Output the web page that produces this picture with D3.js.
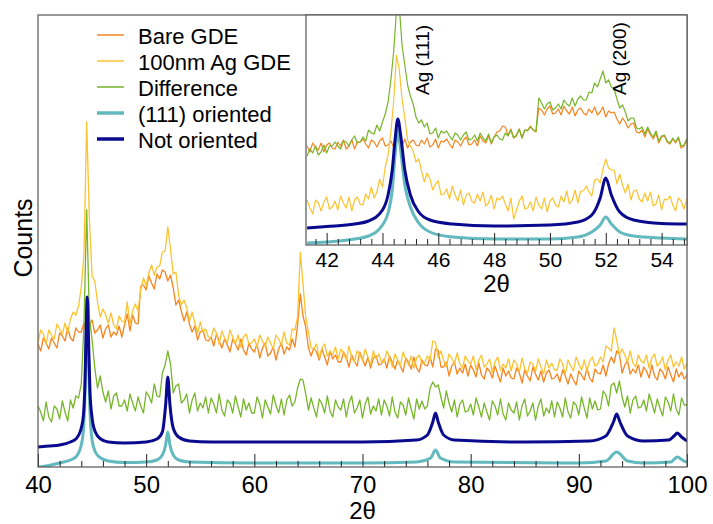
<!DOCTYPE html>
<html>
<head>
<meta charset="utf-8">
<script src="https://cdn.jsdelivr.net/npm/d3@7"></script>
<style>
  html, body { margin: 0; padding: 0; background: #fff; }
  svg { display: block; font-family: 'Liberation Sans', Arial, sans-serif; }
</style>
</head>
<body>
<svg id="chart" width="713" height="524"></svg>
<script>
// main panel, 2theta = 40 .. 100 every 0.25 deg (arbitrary counts, already offset)
const bareGDE = [
  123, 116, 129, 124, 118, 129, 124, 119, 134, 131, 126, 139, 129, 126, 139, 135,
  135, 144, 133, 142, 147, 134, 137, 142, 129, 138, 142, 130, 135, 132, 141, 130,
  142, 153, 136, 152, 144, 143, 181, 182, 177, 191, 184, 178, 193, 188, 197, 195,
  186, 192, 179, 162, 167, 156, 146, 155, 143, 135, 141, 127, 135, 137, 127, 126,
  130, 121, 133, 126, 119, 128, 122, 115, 128, 123, 117, 128, 117, 112, 124, 118,
  115, 123, 109, 119, 124, 111, 114, 120, 107, 118, 124, 113, 120, 117, 128, 120,
  142, 173, 151, 140, 119, 111, 119, 115, 107, 118, 110, 102, 116, 108, 112, 105,
  105, 115, 110, 100, 112, 106, 101, 115, 108, 101, 110, 99, 109, 111, 102, 103,
  108, 99, 111, 105, 98, 107, 101, 95, 109, 105, 98, 110, 99, 95, 107, 102,
  101, 110, 100, 118, 117, 100, 100, 105, 91, 101, 105, 93, 99, 94, 103, 91,
  102, 97, 90, 104, 92, 88, 99, 96, 89, 101, 93, 85, 99, 91, 96, 89,
  88, 99, 94, 84, 97, 91, 86, 100, 93, 87, 96, 85, 94, 97, 88, 89,
  93, 85, 97, 91, 83, 93, 87, 82, 96, 92, 87, 99, 89, 85, 98, 94,
  93, 102, 91, 103, 110, 104, 116, 113, 94, 102, 106, 93, 98, 94, 102, 90,
  100, 96, 89, 102, 91, 87, 98, 95, 88, 100, 92, 85, 98, 90, 95, 88,
  92
]
const agGDE = [
  125, 137, 133, 123, 137, 132, 128, 143, 138, 133, 144, 134, 148, 155, 152, 161,
  180, 212, 345, 248, 191, 186, 165, 150, 158, 152, 144, 154, 142, 138, 151, 146,
  145, 165, 143, 156, 163, 156, 178, 189, 181, 194, 202, 192, 200, 201, 215, 216,
  240, 218, 193, 195, 172, 162, 167, 159, 146, 155, 144, 134, 145, 135, 138, 130,
  129, 139, 134, 123, 136, 129, 124, 137, 130, 123, 132, 120, 130, 133, 123, 124,
  128, 120, 132, 126, 120, 130, 124, 118, 132, 128, 122, 135, 124, 122, 138, 137,
  150, 215, 183, 150, 135, 119, 118, 123, 109, 119, 123, 111, 116, 112, 120, 108,
  118, 114, 107, 121, 109, 105, 116, 113, 106, 118, 110, 102, 116, 108, 113, 105,
  105, 116, 110, 100, 113, 107, 101, 115, 108, 102, 111, 99, 109, 112, 103, 104,
  111, 107, 126, 125, 109, 116, 107, 100, 113, 109, 103, 114, 103, 99, 111, 106,
  103, 111, 97, 107, 112, 100, 103, 108, 95, 105, 110, 97, 103, 99, 108, 96,
  107, 103, 95, 109, 98, 94, 105, 103, 96, 108, 100, 93, 107, 99, 104, 97,
  97, 108, 103, 93, 107, 101, 96, 110, 103, 97, 107, 96, 106, 110, 101, 103,
  110, 105, 121, 119, 116, 139, 127, 112, 118, 112, 105, 116, 104, 100, 112, 106,
  104, 112, 99, 109, 113, 101, 104, 110, 97, 107, 112, 100, 105, 101, 110, 98,
  104
]
const difference = [
  61, 55, 46, 65, 50, 45, 61, 58, 48, 66, 55, 46, 67, 59, 71, 69,
  83, 142, 257, 150, 127, 99, 79, 91, 75, 65, 76, 58, 71, 74, 61, 61,
  67, 56, 73, 64, 56, 70, 61, 54, 75, 71, 64, 83, 71, 70, 94, 102,
  116, 103, 74, 81, 83, 64, 67, 73, 54, 67, 74, 56, 64, 59, 70, 54,
  69, 63, 54, 73, 57, 51, 67, 64, 54, 71, 60, 50, 68, 57, 64, 54,
  54, 70, 63, 49, 67, 60, 53, 72, 62, 54, 68, 52, 67, 72, 61, 65,
  79, 88, 87, 73, 57, 69, 59, 50, 68, 63, 54, 71, 56, 50, 67, 60,
  57, 68, 50, 64, 71, 54, 59, 67, 49, 63, 70, 53, 61, 56, 68, 52,
  67, 61, 51, 70, 55, 49, 65, 62, 52, 69, 58, 48, 68, 58, 66, 58,
  61, 79, 85, 80, 82, 70, 59, 76, 64, 55, 67, 50, 63, 67, 55, 56,
  63, 52, 69, 60, 50, 64, 55, 47, 66, 61, 52, 68, 53, 47, 64, 57,
  54, 65, 47, 61, 68, 51, 56, 64, 47, 61, 68, 51, 59, 54, 66, 50,
  65, 59, 50, 69, 55, 49, 65, 62, 52, 70, 59, 49, 69, 58, 66, 57,
  58, 76, 72, 61, 82, 84, 74, 86, 70, 60, 71, 54, 67, 71, 59, 60,
  67, 56, 73, 64, 54, 68, 59, 51, 70, 65, 56, 73, 58, 52, 69, 62,
  62
]
// simulated patterns, [2theta, counts]
const notOriented = [
  [40, 20], [41, 21], [42, 22], [43, 25], [43.5, 28], [44, 39], [44.2, 52], [44.35, 87],
  [44.45, 137], [44.55, 170], [44.65, 137], [44.8, 77], [45, 49], [45.3, 35], [45.8, 28],
  [46.5, 25], [48, 24], [50, 25], [51, 28], [51.5, 35], [51.8, 62], [52, 90], [52.2, 62],
  [52.5, 39], [53, 30], [54, 26], [56, 25], [60, 25], [70, 25], [75, 27], [76, 32],
  [76.5, 45], [76.75, 54], [77, 45], [77.5, 32], [78.5, 27], [85, 25], [91, 26], [92.5, 31],
  [93.2, 45], [93.5, 53], [93.8, 45], [94.5, 31], [96, 26], [98.3, 27], [98.8, 31],
  [99.1, 34], [99.5, 30], [100, 26]
]
const oriented111 = [
  [40, 0], [41, 1.5], [42, 4], [43, 7], [43.5, 10], [44, 22], [44.2, 37], [44.35, 77],
  [44.45, 127], [44.55, 157], [44.65, 117], [44.8, 57], [45, 27], [45.3, 15], [45.8, 9],
  [46.5, 6], [48, 4.5], [50, 5], [51, 7], [51.5, 12], [51.8, 22], [52, 35], [52.2, 22],
  [52.5, 12], [53, 7], [54, 5], [60, 4], [70, 4], [75, 5], [76.3, 9], [76.75, 17],
  [77.2, 9], [78.5, 5], [90, 4], [92.5, 6], [93.5, 15], [94.5, 6], [96, 4], [98.5, 5],
  [99.1, 10], [99.7, 6], [100, 5]
]

// inset, 2theta = 41.3 .. 55.0 every 0.1 deg
const insetBare = [
  99, 93, 102, 98, 95, 102, 93, 100, 102, 97,
  96, 103, 99, 105, 96, 99, 105, 96, 103, 103,
  106, 101, 97, 105, 103, 98, 104, 107, 99, 100,
  104, 98, 107, 102, 99, 106, 97, 103, 105, 100,
  99, 105, 101, 107, 98, 100, 106, 97, 104, 103,
  106, 101, 97, 105, 103, 99, 105, 108, 100, 101,
  105, 99, 109, 104, 102, 109, 101, 108, 113, 114,
  119, 118, 110, 116, 107, 110, 116, 107, 115, 115,
  119, 115, 113, 137, 135, 130, 136, 139, 131, 132,
  136, 130, 139, 134, 131, 138, 129, 135, 137, 132,
  130, 136, 132, 138, 130, 133, 138, 128, 134, 132,
  133, 126, 121, 127, 123, 117, 121, 122, 113, 112,
  115, 108, 116, 110, 106, 112, 102, 108, 109, 103,
  101, 106, 102, 107, 97, 99, 104, 95
]
const insetAg = [
  45, 37, 31, 45, 42, 34, 43, 48, 36, 38,
  44, 35, 49, 42, 37, 48, 34, 45, 48, 41,
  40, 51, 46, 58, 47, 53, 66, 58, 78, 90,
  113, 143, 190, 176, 146, 127, 105, 99, 94, 83,
  86, 74, 63, 72, 66, 55, 61, 64, 50, 51,
  56, 46, 59, 50, 44, 55, 40, 50, 52, 44,
  42, 51, 44, 53, 39, 42, 50, 36, 47, 45,
  49, 41, 34, 47, 26, 35, 44, 49, 36, 37,
  43, 34, 48, 40, 36, 47, 33, 44, 47, 40,
  38, 49, 43, 54, 41, 45, 55, 42, 54, 54,
  59, 53, 49, 65, 66, 62, 76, 86, 77, 75,
  75, 61, 71, 60, 52, 61, 45, 54, 55, 46,
  43, 52, 44, 53, 39, 41, 50, 35, 46, 45,
  49, 40, 34, 47, 44, 36, 45, 50
]
const insetDiff = [
  89, 96, 92, 99, 90, 93, 100, 92, 99, 99,
  103, 99, 96, 104, 103, 99, 105, 109, 102, 103,
  108, 104, 115, 112, 111, 120, 114, 123, 131, 143,
  165, 193, 234, 240, 200, 180, 160, 149, 141, 128,
  122, 125, 118, 122, 111, 112, 117, 107, 114, 112,
  114, 109, 105, 112, 110, 105, 110, 113, 105, 106,
  110, 104, 112, 107, 104, 111, 102, 108, 110, 106,
  105, 112, 109, 115, 107, 109, 116, 107, 115, 114,
  118, 115, 114, 147, 142, 136, 141, 143, 135, 137,
  141, 136, 145, 141, 139, 147, 139, 146, 149, 145,
  145, 153, 152, 162, 158, 166, 174, 162, 165, 158,
  156, 146, 137, 140, 133, 124, 127, 127, 117, 116,
  118, 111, 118, 112, 108, 114, 104, 109, 110, 104,
  102, 107, 103, 108, 99, 100, 106, 96
]
const insetNotOriented = [
  [41.3, 17], [42, 18.5], [43, 21], [43.5, 24], [44, 35], [44.2, 50], [44.35, 75],
  [44.45, 105], [44.55, 126], [44.65, 110], [44.8, 75], [45, 50], [45.3, 33], [45.7, 25],
  [46.5, 21], [48, 19], [50, 20], [51, 23], [51.5, 30], [51.8, 47], [52, 67], [52.2, 50],
  [52.5, 33], [53, 25], [54, 21.5], [55, 21]
]
const insetOriented = [
  [41.3, 2], [42, 3], [43, 6], [43.5, 9], [44, 20], [44.2, 32], [44.35, 55], [44.45, 90],
  [44.55, 115], [44.65, 95], [44.8, 60], [45, 38], [45.3, 22], [45.7, 13], [46.5, 8],
  [48, 6], [50, 6], [51, 8], [51.5, 13], [51.8, 20], [52, 28], [52.2, 21], [52.5, 13],
  [53, 9], [54, 7], [55, 6]
]

const mainTicks = [40, 50, 60, 70, 80, 90, 100]
const insetTicks = [42, 44, 46, 48, 50, 52, 54]
const legendLabels = ['Bare GDE', '100nm Ag GDE', 'Difference', '(111) oriented', 'Not oriented']
const peakLabels = [{ text: 'Ag (111)', at: 45.66 }, { text: 'Ag (200)', at: 52.72 }]

const colors = {
  bare: '#f7841f',
  ag: '#fbc331',
  diff: '#77b52a',
  oriented: '#62b9be',
  notOriented: '#0a0a8e',
  frame: '#555'
}

const main = { left: 38, right: 687, top: 15, bottom: 467 }
const ins = { left: 306, right: 687, top: 15, bottom: 245 }

const x = d3.scaleLinear().domain([40, 100]).range([main.left, main.right])
const y = d3.scaleLinear().domain([0, 452]).range([main.bottom, main.top])
const xi = d3.scaleLinear().domain([41.26, 54.91]).range([ins.left, ins.right])
const yi = d3.scaleLinear().domain([0, 230]).range([ins.bottom, ins.top])

const pairs = (start, step, vals) => vals.map((v, i) => [start + i * step, v])

const svg = d3.select('#chart')
const defs = svg.append('defs')
defs.append('clipPath').attr('id', 'clip-main').append('rect')
  .attr('x', main.left).attr('y', main.top)
  .attr('width', main.right - main.left).attr('height', main.bottom - main.top)
defs.append('clipPath').attr('id', 'clip-inset').append('rect')
  .attr('x', ins.left).attr('y', ins.top)
  .attr('width', ins.right - ins.left).attr('height', ins.bottom - ins.top)

function drawSeries (g, series, xs, ys) {
  series.forEach(s => {
    const line = d3.line().x(d => xs(d[0])).y(d => ys(d[1])).curve(s.curve || d3.curveLinear)
    g.append('path')
      .datum(s.data)
      .attr('d', line)
      .attr('fill', 'none')
      .attr('stroke', s.color)
      .attr('stroke-width', s.width)
      .attr('stroke-linejoin', 'round')
  })
}

function drawAxis (g, scale, bottom, major, minor, majorLen, minorLen, fontSize, pad) {
  const minorG = g.append('g').attr('transform', `translate(0,${bottom})`)
    .call(d3.axisBottom(scale).tickValues(minor).tickSize(-minorLen).tickFormat(''))
  const majorG = g.append('g').attr('transform', `translate(0,${bottom})`)
    .call(d3.axisBottom(scale).tickValues(major).tickSize(-majorLen).tickPadding(pad).tickFormat(d3.format('d')))
  ;[minorG, majorG].forEach(a => {
    a.select('.domain').remove()
    a.selectAll('line').attr('stroke', '#222').attr('stroke-width', 1)
    a.selectAll('text').attr('font-size', fontSize).attr('font-family', null).attr('fill', '#000')
  })
}

// main panel
const mainG = svg.append('g').attr('clip-path', 'url(#clip-main)')
drawSeries(mainG, [
  { data: pairs(40, 0.25, bareGDE), color: colors.bare, width: 1.3 },
  { data: pairs(40, 0.25, agGDE), color: colors.ag, width: 1.3 },
  { data: pairs(40, 0.25, difference), color: colors.diff, width: 1.3 },
  { data: oriented111, color: colors.oriented, width: 3, curve: d3.curveMonotoneX },
  { data: notOriented, color: colors.notOriented, width: 3, curve: d3.curveMonotoneX }
], x, y)

drawAxis(svg, x, main.bottom, mainTicks,
  d3.range(40, 100.001, 2).filter(v => !mainTicks.includes(v)), 13, 6, 24, 9)

svg.append('rect')
  .attr('x', main.left).attr('y', main.top)
  .attr('width', main.right - main.left).attr('height', main.bottom - main.top)
  .attr('fill', 'none').attr('stroke', colors.frame).attr('stroke-width', 1.2)

svg.append('text')
  .attr('x', (main.left + main.right) / 2).attr('y', 519)
  .attr('text-anchor', 'middle').attr('font-size', 24)
  .text('2θ')

svg.append('text')
  .attr('transform', 'translate(32,238) rotate(-90)')
  .attr('text-anchor', 'middle').attr('font-size', 25)
  .text('Counts')

// legend
const legendKeys = [
  { color: colors.bare, width: 1.5 },
  { color: colors.ag, width: 1.5 },
  { color: colors.diff, width: 1.5 },
  { color: colors.oriented, width: 3.5 },
  { color: colors.notOriented, width: 3.5 }
]
const legend = svg.append('g')
legendLabels.forEach((label, i) => {
  const ly = 35 + i * 26
  legend.append('line')
    .attr('x1', 97).attr('x2', 124).attr('y1', ly).attr('y2', ly)
    .attr('stroke', legendKeys[i].color).attr('stroke-width', legendKeys[i].width)
  legend.append('text')
    .attr('x', 138).attr('y', ly + 9)
    .attr('font-size', 22)
    .text(label)
})

// inset
svg.append('rect')
  .attr('x', ins.left).attr('y', ins.top)
  .attr('width', ins.right - ins.left).attr('height', ins.bottom - ins.top)
  .attr('fill', '#fff')

const insetG = svg.append('g').attr('clip-path', 'url(#clip-inset)')
drawSeries(insetG, [
  { data: pairs(41.3, 0.1, insetBare), color: colors.bare, width: 1.2 },
  { data: pairs(41.3, 0.1, insetDiff), color: colors.diff, width: 1.2 },
  { data: pairs(41.3, 0.1, insetAg), color: colors.ag, width: 1.2 },
  { data: insetOriented, color: colors.oriented, width: 3, curve: d3.curveMonotoneX },
  { data: insetNotOriented, color: colors.notOriented, width: 3, curve: d3.curveMonotoneX }
], xi, yi)

drawAxis(svg, xi, ins.bottom, insetTicks,
  d3.range(41.6, 55, 0.4).filter(v => !insetTicks.some(t => Math.abs(t - v) < 1e-6)), 12, 6, 21, 7)

svg.append('rect')
  .attr('x', ins.left).attr('y', ins.top)
  .attr('width', ins.right - ins.left).attr('height', ins.bottom - ins.top)
  .attr('fill', 'none').attr('stroke', colors.frame).attr('stroke-width', 1.2)

svg.append('text')
  .attr('x', (ins.left + ins.right) / 2).attr('y', 292)
  .attr('text-anchor', 'middle').attr('font-size', 24)
  .text('2θ')

peakLabels.forEach(p => {
  svg.append('text')
    .attr('transform', `translate(${xi(p.at)},95) rotate(-90)`)
    .attr('font-size', 19)
    .text(p.text)
})
</script>
</body>
</html>
